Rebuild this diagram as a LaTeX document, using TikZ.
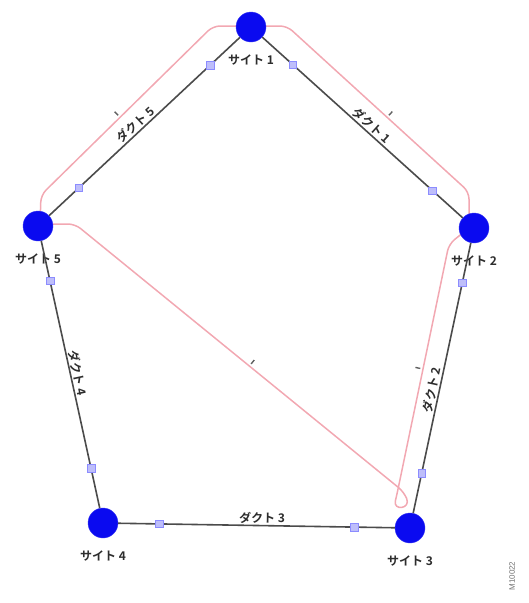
\documentclass[tikz,border=0pt]{standalone}
\usepackage{fontspec}
\newfontfamily\jpfont{Noto Sans CJK JP}[BoldFont={Noto Sans CJK JP Bold}]
\setsansfont{Liberation Sans}
\usepackage{tikz}
\usetikzlibrary{calc,positioning}
\definecolor{sitebl}{RGB}{10,10,240}
\definecolor{ductgr}{RGB}{75,75,75}
\definecolor{pathpk}{RGB}{242,168,178}
\definecolor{mkfill}{RGB}{190,190,250}
\definecolor{ink}{RGB}{45,45,45}
\tikzset{
  site/.style={circle,fill=sitebl,draw=sitebl!80!white,thin,minimum size=30pt,inner sep=0pt},
  sitelabel/.style={font=\jpfont\bfseries\fontsize{12}{14}\selectfont,text=ink,label distance=9pt},
  duct/.style={draw=ductgr,line width=1.6pt},
  ductlabel/.style={font=\jpfont\bfseries\fontsize{12}{14}\selectfont,text=ink,sloped,above=0pt,inner sep=1pt},
  mk/.style={rectangle,fill=mkfill,draw=blue!45,line width=0.4pt,minimum size=7.5pt,inner sep=0pt},
  route/.style={draw=pathpk,line width=1.5pt,rounded corners=7pt},
  tk/.style={rectangle,sharp corners,draw=none,fill=ink!75,inner sep=0pt,minimum width=1.4pt,minimum height=5pt,sloped,above=2pt},
}

\begin{document}
\begin{tikzpicture}[x=1pt,y=-1pt]
  \useasboundingbox (0,0) rectangle (528,603);

  % site centres
  \coordinate (c1) at (251,27);
  \coordinate (c2) at (474,228);
  \coordinate (c3) at (410,528);
  \coordinate (c4) at (103,523);
  \coordinate (c5) at (38,226);

  % the protected route (pink)
  \draw[route] (251,26) -- (287,26)
    -- node[tk,pos=.55] (t1) {} (469,192) -- (469,228) -- (449,244)
    -- node[tk,pos=.5] (t2) {} (397,494)
    .. controls (393,511) and (411,509) .. (404,492)
    -- node[tk,pos=.47] (t3) {} (75,224) -- (40,224) -- (41,195)
    -- node[tk,pos=.46] (t4) {} (213,26) -- cycle;

  % sites
  \node[site,label={[sitelabel]below:サイト 1}] (s1) at (c1) {};
  \node[site,label={[sitelabel]below:サイト 2}] (s2) at (c2) {};
  \node[site,label={[sitelabel]below:サイト 3}] (s3) at (c3) {};
  \node[site,label={[sitelabel]below:サイト 4}] (s4) at (c4) {};
  \node[site,label={[sitelabel]below:サイト 5}] (s5) at (c5) {};

  % ducts
  \draw[duct] (s1) -- node[ductlabel,pos=.52] (d1) {ダクト 1} (s2);
  \draw[duct] (s3) -- node[ductlabel,pos=.45] (d2) {ダクト 2} (s2);
  \draw[duct] (s4) -- node[ductlabel,pos=.52] (d3) {ダクト 3} (s3);
  \draw[duct] (s5) -- node[ductlabel,pos=.5] (d4) {ダクト 4} (s4);
  \draw[duct] (s5) -- node[ductlabel,pos=.48] (d5) {ダクト 5} (s1);

  % end markers on each duct
  \foreach \a/\b in {1/2,2/3,3/4,4/5,5/1} {
    \node[mk] (m\a\b) at ($(c\a)!56pt!(c\b)$) {};
    \node[mk] (m\b\a) at ($(c\b)!56pt!(c\a)$) {};
  }

  \node[font=\sffamily\fontsize{8}{9}\selectfont,text=black!55,rotate=90] (fig) at (512,576) {M10022};
\end{tikzpicture}
\end{document}
